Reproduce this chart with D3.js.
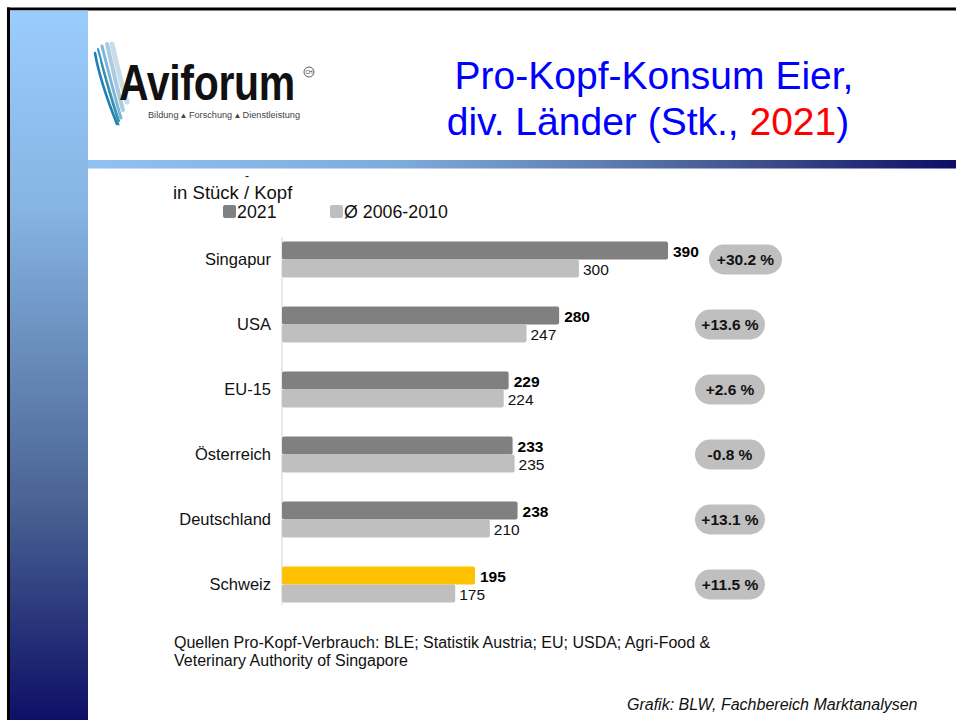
<!DOCTYPE html>
<html>
<head>
<meta charset="utf-8">
<script src="https://cdn.jsdelivr.net/npm/d3@7"></script>
<style>
  html, body { margin: 0; padding: 0; background: #fff; }
  svg { display: block; font-family: "Liberation Sans", Arial, sans-serif; }
</style>
</head>
<body>
<div id="chart"></div>
<script>
// ---- Data ----
const categories = ["Singapur", "USA", "EU-15", "Österreich", "Deutschland", "Schweiz"];
const values2021 = [390, 280, 229, 233, 238, 195];
const valuesAvg = [300, 247, 224, 235, 210, 175];
const changeLabels = ["+30.2 %", "+13.6 %", "+2.6 %", "-0.8 %", "+13.1 %", "+11.5 %"];
const seriesNames = ["2021", "Ø 2006-2010"];
const highlightCategory = "Schweiz";

const W = 956, H = 720;
const svg = d3.select("#chart").append("svg").attr("width", W).attr("height", H);
const defs = svg.append("defs");

// Gradients
const gSide = defs.append("linearGradient").attr("id", "gSide").attr("x1", 0).attr("y1", 0).attr("x2", 0).attr("y2", 1);
[[0, "#9ACCFC"], [0.28, "#86B4E3"], [0.69, "#4A6494"], [1, "#0E0F66"]].forEach(([o, c]) =>
  gSide.append("stop").attr("offset", o).attr("stop-color", c));
const gTop = defs.append("linearGradient").attr("id", "gTop").attr("x1", 0).attr("y1", 0).attr("x2", 1).attr("y2", 0);
[[0, "#8FC2F2"], [0.36, "#7EAADC"], [0.59, "#5F7EB2"], [0.78, "#3C4D89"], [1, "#0D0D66"]].forEach(([o, c]) =>
  gTop.append("stop").attr("offset", o).attr("stop-color", c));

svg.append("rect").attr("width", W).attr("height", H).attr("fill", "#fff");
// slide frame
svg.append("rect").attr("x", 7).attr("y", 7.5).attr("width", W - 7).attr("height", 3).attr("fill", "#000");
svg.append("rect").attr("x", 7).attr("y", 7.5).attr("width", 3).attr("height", H - 7.5).attr("fill", "#000");
svg.append("rect").attr("x", 10).attr("y", 10.5).attr("width", 78).attr("height", H - 10.5).attr("fill", "url(#gSide)");
svg.append("rect").attr("x", 88).attr("y", 160).attr("width", W - 88).attr("height", 8.5).attr("fill", "url(#gTop)");

// ---- Logo ----
const logo = svg.append("g");
const feathers = [
  ["#C8DCE9", 5.0, "M112,44 C116,62 121,82 127,102"],
  ["#A9CCE2", 4.0, "M107,44 C112,66 117,88 123,110"],
  ["#7FB6D8", 3.0, "M102,46 C108,70 114,94 121,118"],
  ["#3E96C8", 2.2, "M98,49 C104,72 111,96 119,121"],
  ["#1F7FB8", 2.6, "M95,53 C99,76 107,99 117,124"],
  ["#2E8C8A", 1.2, "M101,62 C106,83 112,103 119,125"]
];
feathers.forEach(([c, w, d]) => logo.append("path").attr("d", d).attr("fill", "none").attr("stroke", c).attr("stroke-width", w).attr("stroke-linecap", "round"));
logo.append("text").attr("transform", "translate(119,100) scale(1,1.22)").attr("font-size", 41).attr("font-weight", "bold")
  .attr("letter-spacing", -0.3).attr("fill", "#111").text("Aviforum");
logo.append("circle").attr("cx", 309).attr("cy", 72).attr("r", 5).attr("fill", "none").attr("stroke", "#333").attr("stroke-width", 0.8);
logo.append("text").attr("x", 309).attr("y", 74).attr("text-anchor", "middle").attr("font-size", 5).attr("fill", "#333").text("CH");
logo.append("text").attr("x", 148).attr("y", 118).attr("font-size", 8.5).attr("fill", "#444")
  .attr("textLength", 152).attr("lengthAdjust", "spacingAndGlyphs")
  .text("Bildung ▴ Forschung ▴ Dienstleistung");

// ---- Title ----
const title = svg.append("text").attr("x", 652).attr("text-anchor", "middle").attr("font-size", 39).attr("fill", "#0000FF");
title.append("tspan").attr("x", 654).attr("y", 89).text("Pro-Kopf-Konsum Eier,");
const l2 = title.append("tspan").attr("x", 648).attr("y", 135);
l2.append("tspan").text("div. Länder (Stk., ");
l2.append("tspan").attr("fill", "#FF0000").text("2021");
l2.append("tspan").text(")");

// ---- Legend ----
svg.append("text").attr("x", 173).attr("y", 198.5).attr("font-size", 18.5).attr("fill", "#111").text("in Stück / Kopf");
svg.append("text").attr("x", 245).attr("y", 180).attr("font-size", 12).attr("fill", "#111").text("-");
const legendColors = ["#808080", "#BFBFBF"];
const legendX = [223, 330];
seriesNames.forEach((n, i) => {
  svg.append("rect").attr("x", legendX[i]).attr("y", 205).attr("width", 13).attr("height", 13).attr("rx", 2).attr("fill", legendColors[i]);
  svg.append("text").attr("x", legendX[i] + 14).attr("y", 218).attr("font-size", 17.8).attr("fill", "#111").text(n);
});

// ---- Chart ----
const x = d3.scaleLinear().domain([0, 390]).range([282, 668]);
const y = d3.scaleBand().domain(categories).range([227, 617]);
const barH = 18;
const cy = c => y(c) + y.bandwidth() / 2;

svg.append("line").attr("x1", 282).attr("x2", 282).attr("y1", 237).attr("y2", 605)
  .attr("stroke", "#D9D9D9").attr("stroke-width", 1.2);

const rows = categories.map((c, i) => ({ c, v: values2021[i], a: valuesAvg[i], ch: changeLabels[i] }));
const g = svg.append("g");

g.selectAll("rect.cur").data(rows).join("rect").attr("class", "cur")
  .attr("x", x(0)).attr("y", d => cy(d.c) - barH)
  .attr("width", d => x(d.v) - x(0)).attr("height", barH).attr("rx", 2)
  .attr("fill", d => d.c === highlightCategory ? "#FFC000" : "#808080");
g.selectAll("rect.avg").data(rows).join("rect").attr("class", "avg")
  .attr("x", x(0)).attr("y", d => cy(d.c))
  .attr("width", d => x(d.a) - x(0)).attr("height", barH).attr("rx", 2)
  .attr("fill", "#BFBFBF");

g.selectAll("text.vcur").data(rows).join("text").attr("class", "vcur")
  .attr("x", d => x(d.v) + 5).attr("y", d => cy(d.c) - 2.5)
  .attr("font-size", 15.5).attr("font-weight", "bold").attr("fill", "#000").text(d => d.v);
g.selectAll("text.vavg").data(rows).join("text").attr("class", "vavg")
  .attr("x", d => x(d.a) + 4).attr("y", d => cy(d.c) + 15.5)
  .attr("font-size", 15.5).attr("fill", "#111").text(d => d.a);

g.selectAll("text.cat").data(rows).join("text").attr("class", "cat")
  .attr("x", 271).attr("y", d => cy(d.c) + 5.5).attr("text-anchor", "end")
  .attr("font-size", 16.5).attr("fill", "#111").text(d => d.c);

// change pills
const pill = g.selectAll("g.pill").data(rows).join("g").attr("class", "pill")
  .attr("transform", (d, i) => `translate(${i === 0 ? 745.5 : 730},${cy(d.c)})`);
pill.append("rect").attr("x", (d, i) => i === 0 ? -36.5 : -35).attr("y", -15)
  .attr("width", (d, i) => i === 0 ? 73 : 70).attr("height", 30).attr("rx", 15)
  .attr("fill", "#BFBFBF");
pill.append("text").attr("y", 5.5).attr("text-anchor", "middle").attr("font-size", 15.5)
  .attr("font-weight", "bold").attr("fill", "#111").text(d => d.ch);

// ---- Footer ----
const foot = svg.append("text").attr("font-size", 16).attr("fill", "#111");
foot.append("tspan").attr("x", 174).attr("y", 648).text("Quellen Pro-Kopf-Verbrauch: BLE; Statistik Austria; EU; USDA; Agri-Food &");
foot.append("tspan").attr("x", 174).attr("y", 666).text("Veterinary Authority of Singapore");
svg.append("text").attr("x", 627).attr("y", 710).attr("font-size", 16).attr("font-style", "italic")
  .attr("fill", "#111").text("Grafik: BLW, Fachbereich Marktanalysen");
</script>
</body>
</html>
